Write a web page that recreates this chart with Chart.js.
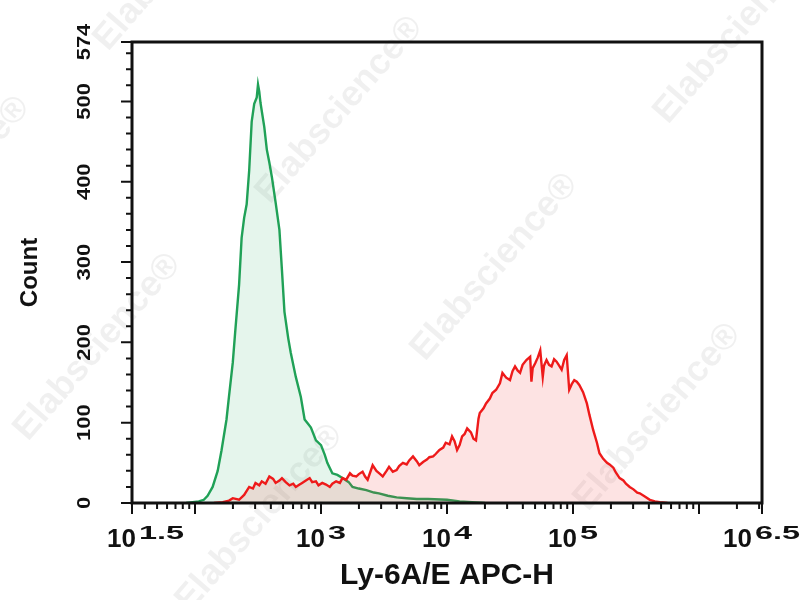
<!DOCTYPE html>
<html>
<head>
<meta charset="utf-8">
<script src="https://cdn.jsdelivr.net/npm/chart.js@4.4.1/dist/chart.umd.min.js"></script>
<style>
html,body{margin:0;padding:0;background:#fff;}
#wrap{width:804px;height:600px;}
</style>
</head>
<body>
<div id="wrap"><canvas id="c" width="804" height="600"></canvas></div>
<script>
// ---- data (x as log10 exponents of the APC-H intensity, y as event counts) ----
const greenExp = [1.93,1.98,2.03,2.07,2.10,2.14,2.18,2.21,2.25,2.27,2.30,2.32,2.35,2.37,2.39,2.41,2.43,2.45,2.47,2.49,2.50,2.51,2.52,2.55,2.57,2.59,2.61,2.64,2.67,2.69,2.71,2.74,2.76,2.80,2.84,2.87,2.90,2.92,2.96,3.00,3.03,3.05,3.09,3.13,3.17,3.22,3.25,3.30,3.36,3.42,3.46,3.53,3.60,3.68,3.76,3.85,4.00,4.10,4.20,4.30];
const greenCount = [0,1,2,4,9,20,40,65,104,133,175,215,272,330,355,372,414,475,497,505,521,512,498,468,440,424,406,374,340,290,238,205,187,157,132,104,98,94,78,72,60,50,37,35,31,26,20,18,16,13,12,9,7,6,5,5,4,2,1,0];

const redExp = [2.15,2.22,2.27,2.30,2.35,2.39,2.43,2.46,2.48,2.51,2.53,2.56,2.59,2.62,2.64,2.67,2.69,2.72,2.75,2.78,2.80,2.83,2.85,2.88,2.91,2.93,2.96,2.98,3.01,3.04,3.07,3.09,3.12,3.15,3.17,3.20,3.23,3.25,3.28,3.30,3.33,3.35,3.37,3.39,3.41,3.44,3.47,3.49,3.52,3.54,3.57,3.60,3.62,3.65,3.68,3.70,3.73,3.76,3.78,3.81,3.84,3.86,3.89,3.91,3.94,3.97,3.99,4.02,4.04,4.06,4.08,4.10,4.12,4.14,4.16,4.19,4.21,4.23,4.25,4.26,4.29,4.31,4.34,4.36,4.39,4.42,4.44,4.47,4.50,4.52,4.54,4.56,4.58,4.60,4.63,4.66,4.67,4.68,4.70,4.72,4.74,4.76,4.77,4.79,4.81,4.83,4.85,4.87,4.89,4.91,4.93,4.95,4.97,4.99,5.01,5.03,5.05,5.08,5.11,5.13,5.16,5.19,5.21,5.24,5.27,5.29,5.32,5.34,5.37,5.40,5.42,5.45,5.48,5.51,5.53,5.57,5.61,5.65,5.69,5.75];
const redCount = [0,1,3,6,4,10,20,18,25,22,27,24,33,30,25,28,31,26,22,24,20,23,25,28,31,26,27,22,25,23,20,24,27,25,31,29,37,34,33,36,39,33,29,38,47,40,36,33,40,45,39,41,46,50,48,53,58,52,47,51,54,57,58,61,66,69,75,73,83,77,66,72,83,86,93,88,80,78,105,112,118,124,130,137,141,149,162,156,153,164,170,165,162,172,178,182,151,168,174,181,190,157,171,178,172,170,179,176,171,166,178,184,141,148,153,151,147,138,124,110,91,75,62,55,50,48,44,38,31,28,24,20,17,13,12,8,4,2,1,0];

const xMinExp = 1.5;
const xMaxExp = 6.5;
const xMajorExp = [1.5, 2, 3, 4, 5, 6, 6.5];
const xLabelExp = [1.5, 3, 4, 5, 6.5];
const xLabelSup = ['1.5', '3', '4', '5', '6.5'];
const yMax = 574;
const yMajor = [0, 100, 200, 300, 400, 500, 574];
const yMinorStep = 20;
const xTitle = 'Ly-6A/E APC-H';
const yTitle = 'Count';
const watermarkText = 'Elabscience®';
const watermarkSpots = [[108,52],[-123,285],[270,205],[668,125],[425,362],[28,442],[588,512],[190,613]];

// ---- build datasets ----
const toPoints = (ex, cnt) => ex.map((e, i) => ({x: Math.pow(10, e), y: cnt[i]}));
const FONT = '"Liberation Sans", Arial, Helvetica, sans-serif';

const xMinor = [];
for (let n = 1; n <= 6; n++) {
  for (let k = 2; k <= 9; k++) {
    const v = k * Math.pow(10, n);
    if (v > Math.pow(10, xMinExp) && v < Math.pow(10, xMaxExp)) xMinor.push(v);
  }
}

const decorPlugin = {
  id: 'decor',
  beforeDatasetsDraw(chart) {
    const ctx = chart.ctx;
    ctx.save();
    ctx.font = 'bold 36px ' + FONT;
    ctx.fillStyle = 'rgba(0,0,0,0.06)';
    ctx.textAlign = 'left';
    ctx.textBaseline = 'alphabetic';
    watermarkSpots.forEach(([x, y]) => {
      ctx.save();
      ctx.translate(x, y);
      ctx.rotate(-49 * Math.PI / 180);
      ctx.fillText(watermarkText, 0, 0);
      ctx.restore();
    });
    ctx.restore();
  },
  afterDatasetsDraw(chart) {
    const ctx = chart.ctx;
    const {left, right, top, bottom} = chart.chartArea;
    const xs = chart.scales.x, ys = chart.scales.y;
    ctx.save();
    ctx.strokeStyle = '#111';
    // frame
    ctx.lineWidth = 3;
    ctx.strokeRect(left, top, right - left, bottom - top);
    // x ticks
    ctx.lineWidth = 2;
    ctx.beginPath();
    xMajorExp.forEach(e => {
      const px = xs.getPixelForValue(Math.pow(10, e));
      ctx.moveTo(px, bottom); ctx.lineTo(px, bottom + 11);
    });
    xMinor.forEach(v => {
      const px = xs.getPixelForValue(v);
      ctx.moveTo(px, bottom); ctx.lineTo(px, bottom + 6);
    });
    // y ticks
    for (let v = 0; v <= yMax; v += yMinorStep) {
      if (v % 100 === 0) continue;
      const py = ys.getPixelForValue(v);
      ctx.moveTo(left, py); ctx.lineTo(left - 6, py);
    }
    yMajor.forEach(v => {
      const py = ys.getPixelForValue(v);
      ctx.moveTo(left, py); ctx.lineTo(left - 11, py);
    });
    ctx.stroke();

    // y tick labels (rotated, reading upward)
    ctx.fillStyle = '#111';
    ctx.font = 'bold 18px ' + FONT;
    ctx.textAlign = 'center';
    ctx.textBaseline = 'alphabetic';
    yMajor.forEach(v => {
      const py = ys.getPixelForValue(v);
      ctx.save();
      ctx.translate(left - 42, py);
      ctx.rotate(-Math.PI / 2);
      ctx.scale(1.22, 1);
      ctx.fillText(String(v), 0, 0);
      ctx.restore();
    });

    // x tick labels: 10 with raised exponent
    const baseY = bottom + 44, supY = bottom + 36;
    const supStretch = 1.8;
    xLabelExp.forEach((e, i) => {
      const px = xs.getPixelForValue(Math.pow(10, e));
      ctx.font = 'bold 26px ' + FONT;
      const wb = ctx.measureText('10').width;
      ctx.font = 'bold 18px ' + FONT;
      const we = ctx.measureText(xLabelSup[i]).width * supStretch;
      const total = wb + 3 + we;
      let x0 = px - total / 2;
      if (i === 0) x0 = px - 25;
      if (x0 + total > chart.width - 4) x0 = chart.width - 4 - total;
      ctx.textAlign = 'left';
      ctx.font = 'bold 26px ' + FONT;
      ctx.fillText('10', x0, baseY);
      ctx.save();
      ctx.translate(x0 + wb + 3, supY);
      ctx.scale(supStretch, 1);
      ctx.font = 'bold 18px ' + FONT;
      ctx.fillText(xLabelSup[i], 0, 0);
      ctx.restore();
    });
    ctx.restore();
  }
};

new Chart(document.getElementById('c').getContext('2d'), {
  type: 'line',
  data: {
    datasets: [
      {
        label: 'Ly-6A/E APC',
        data: toPoints(redExp, redCount),
        borderColor: '#ee1a1a',
        backgroundColor: 'rgba(240,60,60,0.14)',
        fill: 'origin',
        borderWidth: 2.4,
        pointRadius: 0,
        tension: 0
      },
      {
        label: 'Isotype',
        data: toPoints(greenExp, greenCount),
        borderColor: '#20a157',
        backgroundColor: 'rgba(40,170,100,0.12)',
        fill: 'origin',
        borderWidth: 2.4,
        pointRadius: 0,
        tension: 0
      }
    ]
  },
  options: {
    responsive: false,
    animation: false,
    devicePixelRatio: 1,
    layout: {padding: {left: 0, top: 42, right: 42, bottom: 0}},
    plugins: {legend: {display: false}, tooltip: {enabled: false}},
    scales: {
      x: {
        type: 'logarithmic',
        min: Math.pow(10, xMinExp),
        max: Math.pow(10, xMaxExp),
        grid: {display: false},
        border: {display: false},
        ticks: {display: false},
        title: {display: true, text: xTitle, color: '#111',
                font: {family: FONT, size: 30, weight: 'bold'},
                padding: {top: 0, bottom: 6}},
        afterFit(s) { s.height = 97; }
      },
      y: {
        type: 'linear',
        min: 0,
        max: yMax,
        grid: {display: false},
        border: {display: false},
        ticks: {display: false},
        title: {display: true, text: yTitle, color: '#111',
                font: {family: FONT, size: 24, weight: 'bold'},
                padding: {top: 16, bottom: 0}},
        afterFit(s) { s.width = 132; }
      }
    }
  },
  plugins: [decorPlugin]
});
</script>
</body>
</html>
